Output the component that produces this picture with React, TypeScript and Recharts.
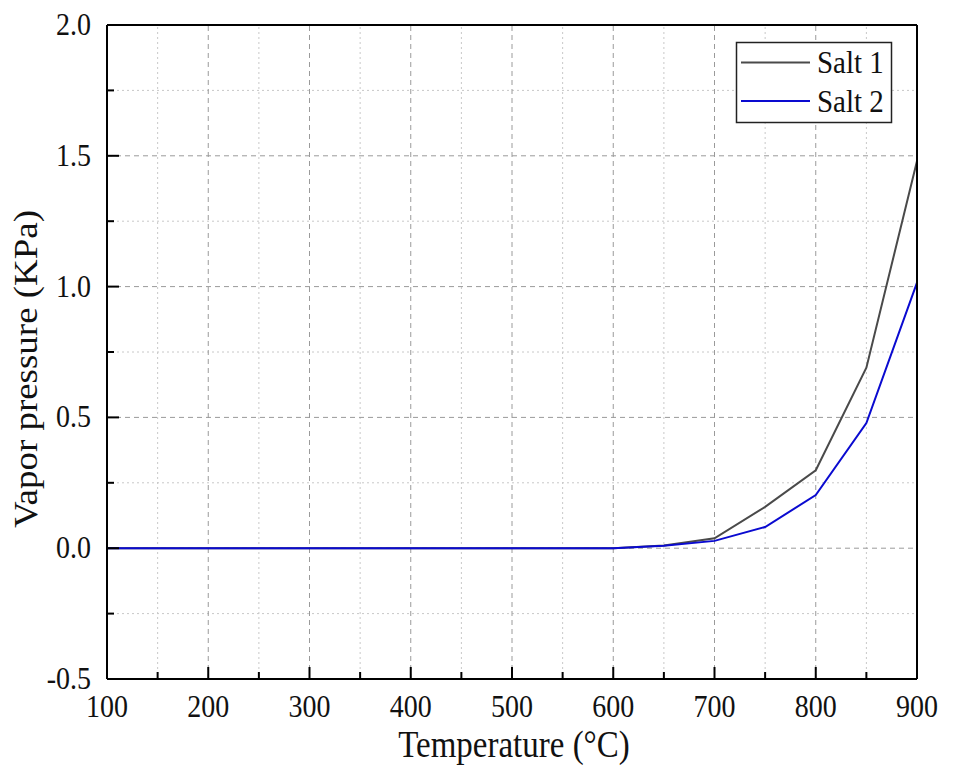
import { LineChart, Line, XAxis, YAxis, ReferenceLine } from "recharts";

const temperatures = [100, 150, 200, 250, 300, 350, 400, 450, 500, 550, 600, 650, 700, 750, 800, 850, 900];
const salt1 = [0, 0, 0, 0, 0, 0, 0, 0, 0, 0, 0, 0.01, 0.038, 0.158, 0.298, 0.69, 1.48];
const salt2 = [0, 0, 0, 0, 0, 0, 0, 0, 0, 0, 0, 0.009, 0.028, 0.081, 0.203, 0.478, 1.015];

const xMajor = [100, 200, 300, 400, 500, 600, 700, 800, 900];
const xMinor = [150, 250, 350, 450, 550, 650, 750, 850];
const yMajor = [-0.5, 0, 0.5, 1.0, 1.5, 2.0];
const yMinor = [-0.25, 0.25, 0.75, 1.25, 1.75];

const data = temperatures.map((t, i) => ({ t, s1: salt1[i], s2: salt2[i] }));

const FONT = "'Liberation Serif', 'Times New Roman', serif";
const LEFT = 107;
const RIGHT = 917;
const TOP = 25;
const BOTTOM = 679;
const STRETCH = 1.12; // the reference's text is a little taller than it is wide

const xTicks = [...xMajor, ...xMinor].sort((a, b) => a - b);
const yTicks = [...yMajor, ...yMinor].sort((a, b) => a - b);

const isMajorX = (v: number) => xMajor.includes(v);
const isMajorY = (v: number) => yMajor.some(m => Math.abs(m - v) < 1e-6);

function TallText({ x, y, anchor, size, children, rotate = 0 }: any) {
  const tf = rotate
    ? `translate(${x},${y}) rotate(${rotate}) scale(${STRETCH},1)`
    : `translate(${x},${y}) scale(1,${STRETCH})`;
  return (
    <text transform={tf} x={0} y={0} textAnchor={anchor} fontSize={size} fontFamily={FONT} fill="#111">
      {children}
    </text>
  );
}

function BottomTick({ x, payload }: any) {
  const major = isMajorX(payload.value);
  return (
    <g>
      <line x1={x} x2={x} y1={BOTTOM} y2={BOTTOM - (major ? 12 : 7)} stroke="#000" strokeWidth={2} />
      {major && (
        <TallText x={x} y={717} anchor="middle" size={28}>
          {payload.value}
        </TallText>
      )}
    </g>
  );
}

function TopTick({ x, payload }: any) {
  const major = isMajorX(payload.value);
  return <line x1={x} x2={x} y1={TOP} y2={TOP + (major ? 12 : 7)} stroke="#000" strokeWidth={2} />;
}

function LeftTick({ y, payload }: any) {
  const major = isMajorY(payload.value);
  return (
    <g>
      <line x1={LEFT} x2={LEFT + (major ? 12 : 7)} y1={y} y2={y} stroke="#000" strokeWidth={2} />
      {major && (
        <TallText x={91} y={y + 10} anchor="end" size={28}>
          {payload.value.toFixed(1)}
        </TallText>
      )}
    </g>
  );
}

function RightTick({ y, payload }: any) {
  const major = isMajorY(payload.value);
  return <line x1={RIGHT} x2={RIGHT - (major ? 12 : 7)} y1={y} y2={y} stroke="#000" strokeWidth={2} />;
}

function XTitle({ viewBox }: any) {
  const cx = viewBox.x + viewBox.width / 2;
  return (
    <TallText x={cx + 2} y={757} anchor="middle" size={33}>
      Temperature (°C)
    </TallText>
  );
}

function YTitle({ viewBox }: any) {
  const cy = viewBox.y + viewBox.height / 2;
  return (
    <TallText x={37} y={cy + 17} anchor="middle" size={33} rotate={-90}>
      Vapor pressure (KPa)
    </TallText>
  );
}

const legendItems = [
  { label: "Salt 1", color: "#4a4a4a" },
  { label: "Salt 2", color: "#0a0ad0" },
];

function LegendBox() {
  return (
    <svg width={160} height={84} style={{ position: "absolute", left: 735, top: 41 }}>
      <rect x={1.5} y={1.5} width={155} height={80} fill="#fff" stroke="#222" strokeWidth={1.5} />
      {legendItems.map((it, i) => (
        <g key={it.label}>
          <line x1={6} x2={75} y1={21.5 + i * 38.5} y2={21.5 + i * 38.5} stroke={it.color} strokeWidth={2} />
          <TallText x={82} y={32 + i * 38.5} anchor="start" size={29}>
            {it.label}
          </TallText>
        </g>
      ))}
    </svg>
  );
}

export default function App() {
  return (
    <div style={{ position: "absolute", left: 0, top: 0, width: 955, height: 766, background: "#fff" }}>
      <LineChart width={955} height={766} data={data} margin={{ top: 20, right: 30, bottom: 7, left: 7 }}>
        {xMinor.map(v => (
          <ReferenceLine key={"xm" + v} x={v} xAxisId="b" yAxisId="l" stroke="#c8c8c8" strokeDasharray="2 3" />
        ))}
        {yMinor.map(v => (
          <ReferenceLine key={"ym" + v} y={v} xAxisId="b" yAxisId="l" stroke="#c8c8c8" strokeDasharray="2 3" />
        ))}
        {xMajor.slice(1, -1).map(v => (
          <ReferenceLine key={"xM" + v} x={v} xAxisId="b" yAxisId="l" stroke="#9a9a9a" strokeDasharray="5 4" />
        ))}
        {yMajor.slice(1, -1).map(v => (
          <ReferenceLine key={"yM" + v} y={v} xAxisId="b" yAxisId="l" stroke="#9a9a9a" strokeDasharray="5 4" />
        ))}
        <XAxis
          xAxisId="b"
          dataKey="t"
          type="number"
          domain={[100, 900]}
          ticks={xTicks}
          interval={0}
          height={80}
          axisLine={{ stroke: "#000", strokeWidth: 2 }}
          tickLine={false}
          tick={<BottomTick />}
          label={<XTitle />}
        />
        <XAxis
          xAxisId="t"
          orientation="top"
          type="number"
          domain={[100, 900]}
          ticks={xTicks}
          interval={0}
          height={5}
          axisLine={{ stroke: "#000", strokeWidth: 2 }}
          tickLine={false}
          tick={<TopTick />}
        />
        <YAxis
          yAxisId="l"
          type="number"
          domain={[-0.5, 2.0]}
          ticks={yTicks}
          interval={0}
          width={100}
          axisLine={{ stroke: "#000", strokeWidth: 2 }}
          tickLine={false}
          tick={<LeftTick />}
          label={<YTitle />}
        />
        <YAxis
          yAxisId="r"
          orientation="right"
          type="number"
          domain={[-0.5, 2.0]}
          ticks={yTicks}
          interval={0}
          width={8}
          axisLine={{ stroke: "#000", strokeWidth: 2 }}
          tickLine={false}
          tick={<RightTick />}
        />
        <Line xAxisId="b" yAxisId="l" dataKey="s1" name="Salt 1" stroke="#4a4a4a" strokeWidth={2} dot={false} isAnimationActive={false} />
        <Line xAxisId="b" yAxisId="l" dataKey="s2" name="Salt 2" stroke="#0a0ad0" strokeWidth={2} dot={false} isAnimationActive={false} />
      </LineChart>
      <LegendBox />
    </div>
  );
}
